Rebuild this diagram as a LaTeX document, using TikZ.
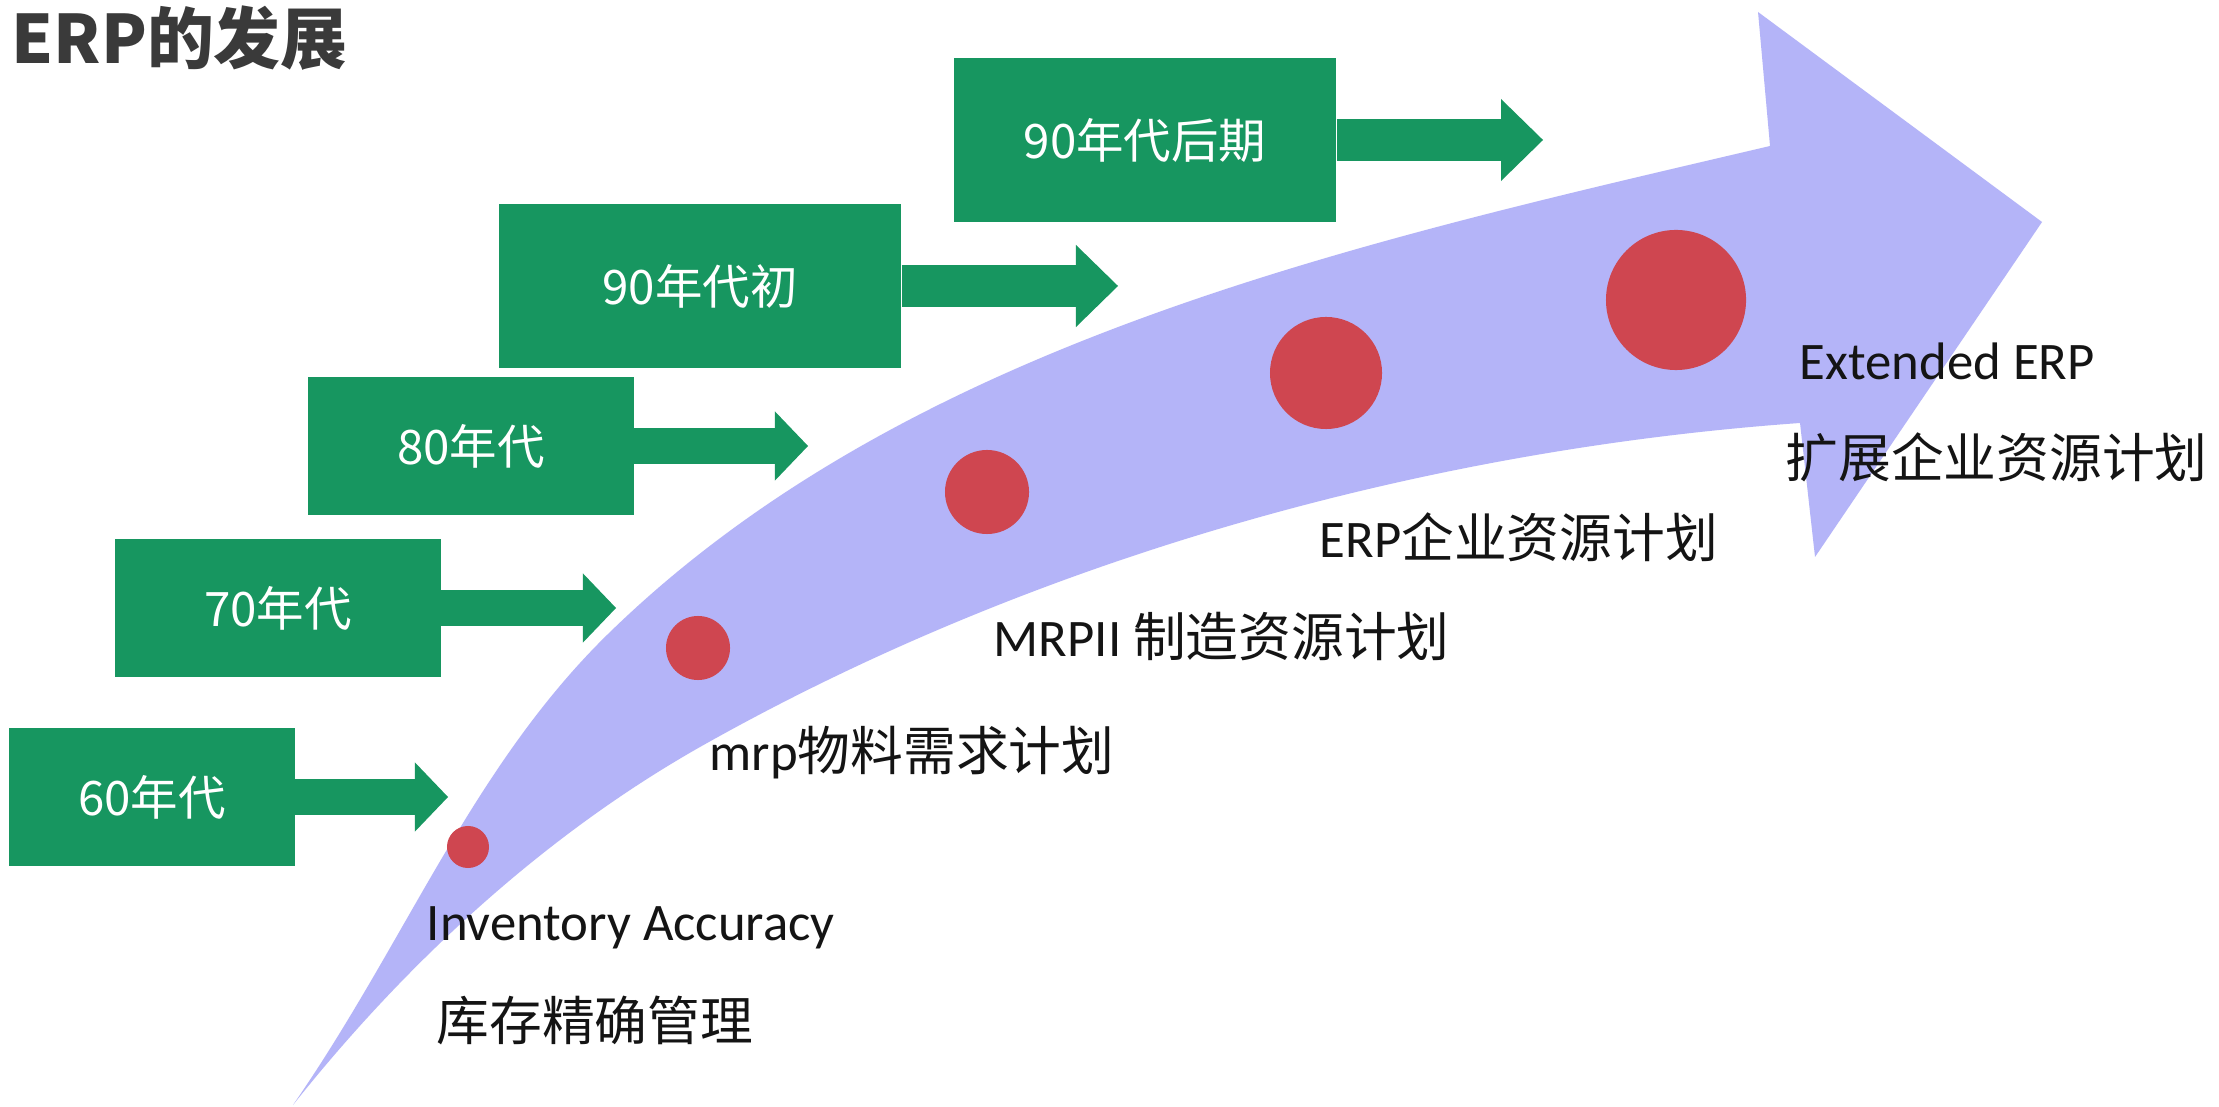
\documentclass[tikz,border=0pt]{standalone}
\usepackage{fontspec}
\setmainfont{Carlito}
\newfontfamily\cjk{Noto Sans CJK SC}
\usepackage{xcolor}
\usepackage{tikz}
\usetikzlibrary{positioning,arrows.meta}
\definecolor{boxgreen}{RGB}{23,150,96}
\definecolor{bandblue}{RGB}{180,180,248}
\definecolor{dotred}{RGB}{207,70,80}
\definecolor{titlegray}{RGB}{58,58,58}
\definecolor{labelblack}{RGB}{20,20,20}
\newcommand{\zh}[1]{{\cjk #1}}

\begin{document}
\begin{tikzpicture}[x=0.01cm,y=-0.01cm,
  era/.style={rectangle,fill=boxgreen,text=white,inner sep=0,minimum height=1.38cm,font={\cjk\fontsize{13.5}{16}\selectfont}},
  lateera/.style={era,minimum height=1.63cm},
  shortarrow/.style={boxgreen,line width=0.36cm,-{Triangle[length=0.33cm,width=0.69cm,line width=0pt]}},
  longarrow/.style={boxgreen,line width=0.42cm,-{Triangle[length=0.42cm,width=0.82cm,line width=0pt]}},
  dot/.style={circle,fill=dotred,inner sep=0},
  lbl/.style={anchor=base west,inner sep=0,text=labelblack,font={\fontsize{15}{18}\selectfont}}]
\fill[white] (0,0) rectangle (2219,1107);
\useasboundingbox (0,0) rectangle (2219,1107);

\fill[bandblue] (293,1105) .. controls (407,940) and (472,767) .. (608,634)
  .. controls (909,340) and (1361,242) .. (1770,146)
  -- (1758,12) -- (2042,222) -- (1815,557) -- (1800,423)
  .. controls (1421,450) and (1031,560) .. (700,747)
  .. controls (543,836) and (405,964) .. (293,1105) -- cycle;

\node[dot,minimum size=0.42cm] (d1) at (468,847) {};
\node[dot,minimum size=0.64cm] (d2) at (698,648) {};
\node[dot,minimum size=0.84cm] (d3) at (987,492) {};
\node[dot,minimum size=1.12cm] (d4) at (1326,373) {};
\node[dot,minimum size=1.40cm] (d5) at (1676,300) {};

\node[era,minimum width=2.85cm] (y60) at (152,797) {60年代};
\node[era,minimum width=3.25cm] (y70) at (278,608) {70年代};
\node[era,minimum width=3.25cm] (y80) at (471,446) {80年代};
\node[lateera,minimum width=4.02cm] (y90a) at (700,286) {90年代初};
\node[lateera,minimum width=3.82cm] (y90b) at (1145,140) {90年代后期};
\coordinate (t60) at (448,797);
\coordinate (t70) at (616,608);
\coordinate (t80) at (808,446);
\coordinate (t90a) at (1118,286);
\coordinate (t90b) at (1543,140);
\draw[shortarrow] (y60.east) -- (t60);
\draw[shortarrow] (y70.east) -- (t70);
\draw[shortarrow] (y80.east) -- (t80);
\draw[longarrow] (y90a.east) -- (t90a);
\draw[longarrow] (y90b.east) -- (t90b);

\node[anchor=base west,inner sep=0,text=titlegray,font={\cjk\bfseries\fontsize{19}{23}\selectfont}] (title) at (11,64) {ERP的发展};

\node[lbl] (inv) at (426,940) {Inventory Accuracy};
\node[lbl] (invzh) at (436,1040) {\zh{库存精确管理}};
\node[lbl] (mrp) at (709,771) {mrp\zh{物料需求计划}};
\node[lbl] (mrpii) at (993,657) {MRPII \zh{制造资源计划}};
\node[lbl] (erp) at (1319,558) {ERP\zh{企业资源计划}};
\node[lbl] (ext) at (1799,380) {Extended ERP};
\node[lbl] (extzh) at (1785,478) {\zh{扩展企业资源计划}};
\end{tikzpicture}
\end{document}
